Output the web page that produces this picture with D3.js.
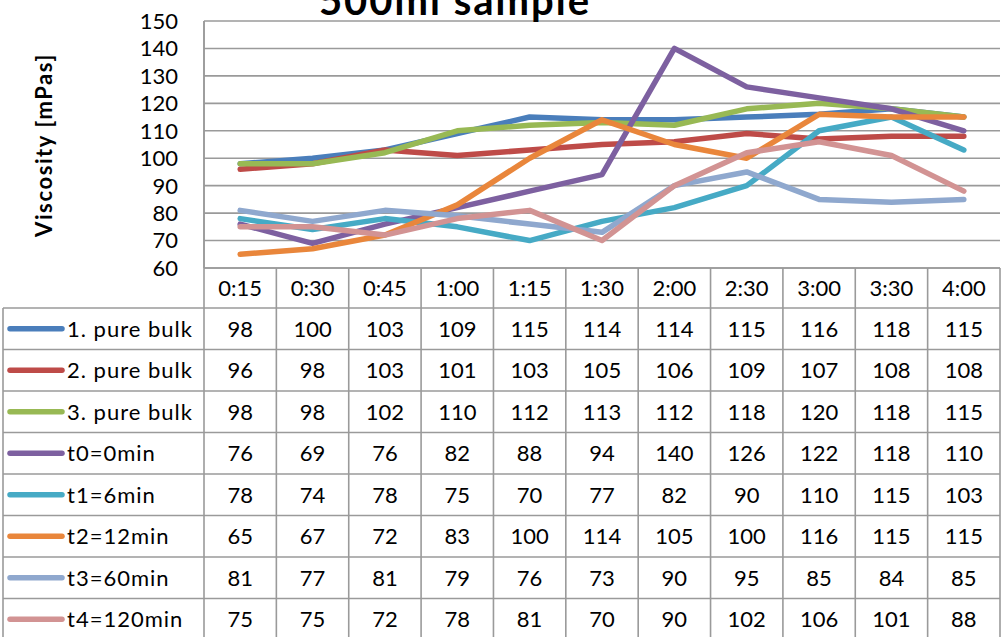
<!DOCTYPE html>
<html>
<head>
<meta charset="utf-8">
<script src="https://cdn.jsdelivr.net/npm/d3@7"></script>
<style>
  html, body { margin: 0; padding: 0; background: #fff; }
  svg { display: block; font-family: Lato, "Open Sans", sans-serif; }
</style>
</head>
<body>
<svg id="chart" width="1001" height="637"></svg>
<script>
// Time points of the measurement
const categories = ["0:15", "0:30", "0:45", "1:00", "1:15", "1:30", "2:00", "2:30", "3:00", "3:30", "4:00"];

// Series names
const seriesNames = ["1. pure bulk", "2. pure bulk", "3. pure bulk", "t0=0min", "t1=6min", "t2=12min", "t3=60min", "t4=120min"];

// Viscosity values [mPas], one array per series
const pureBulk1 = [98, 100, 103, 109, 115, 114, 114, 115, 116, 118, 115];
const pureBulk2 = [96, 98, 103, 101, 103, 105, 106, 109, 107, 108, 108];
const pureBulk3 = [98, 98, 102, 110, 112, 113, 112, 118, 120, 118, 115];
const t0 = [76, 69, 76, 82, 88, 94, 140, 126, 122, 118, 110];
const t1 = [78, 74, 78, 75, 70, 77, 82, 90, 110, 115, 103];
const t2 = [65, 67, 72, 83, 100, 114, 105, 100, 116, 115, 115];
const t3 = [81, 77, 81, 79, 76, 73, 90, 95, 85, 84, 85];
const t4 = [75, 75, 72, 78, 81, 70, 90, 102, 106, 101, 88];

// Y axis ticks
const yTicks = [60, 70, 80, 90, 100, 110, 120, 130, 140, 150];

const seriesValues = [pureBulk1, pureBulk2, pureBulk3, t0, t1, t2, t3, t4];
const colors = ["#4A7EBB", "#BE4B48", "#98B954", "#7D60A0", "#46AAC5", "#E9863B", "#8FA8CE", "#D29393"];

const series = seriesNames.map((name, i) => ({ name, values: seriesValues[i], color: colors[i] }));

const svg = d3.select("#chart");

const plot = { left: 204, right: 1000, top: 21, bottom: 268 };
const table = { headerTop: 268, headerBottom: 308, rowH: 41.5, left: 3 };
const gridColor = "#9a9a9a";

const x = d3.scaleBand().domain(categories).range([plot.left, plot.right]).padding(0);
const y = d3.scaleLinear().domain([60, 150]).range([plot.bottom, plot.top]);

// Horizontal gridlines
svg.append("g")
  .selectAll("line")
  .data(yTicks)
  .join("line")
  .attr("x1", plot.left).attr("x2", plot.right)
  .attr("y1", d => y(d)).attr("y2", d => y(d))
  .attr("stroke", gridColor).attr("stroke-width", 1.6);

// Y axis line
svg.append("line")
  .attr("x1", plot.left).attr("x2", plot.left)
  .attr("y1", plot.top).attr("y2", plot.bottom)
  .attr("stroke", gridColor).attr("stroke-width", 1.6);

// Y tick labels
svg.append("g")
  .selectAll("text")
  .data(yTicks)
  .join("text")
  .attr("x", 178)
  .attr("y", d => y(d))
  .attr("dy", "0.36em")
  .attr("text-anchor", "end")
  .attr("font-size", 22)
  .attr("fill", "#000")
  .text(d => d);

// Y axis title
svg.append("text")
  .attr("transform", "translate(52,145) rotate(-90)")
  .attr("text-anchor", "middle")
  .attr("font-size", 22)
  .attr("font-weight", "bold")
  .attr("letter-spacing", 1.6)
  .text("Viscosity [mPas]");

// Chart title (sits partly above the top edge)
svg.append("text")
  .attr("x", 455)
  .attr("y", 15)
  .attr("text-anchor", "middle")
  .attr("font-size", 40)
  .attr("font-weight", "bold")
  .attr("letter-spacing", 2)
  .text("500ml sample");

// Lines
const line = d3.line()
  .x((d, i) => x(categories[i]) + x.bandwidth() / 2)
  .y(d => y(d));

svg.append("g")
  .selectAll("path")
  .data(series)
  .join("path")
  .attr("d", d => line(d.values))
  .attr("fill", "none")
  .attr("stroke", d => d.color)
  .attr("stroke-width", 5.5)
  .attr("stroke-linejoin", "round")
  .attr("stroke-linecap", "round");

// Data table
const tbl = svg.append("g");
const rowsBottom = table.headerBottom + series.length * table.rowH;

// header row top border
tbl.append("line")
  .attr("x1", plot.left).attr("x2", plot.right)
  .attr("y1", table.headerTop).attr("y2", table.headerTop)
  .attr("stroke", gridColor).attr("stroke-width", 1.6);

// horizontal row borders
const rowLines = d3.range(series.length + 1).map(i => table.headerBottom + i * table.rowH);
tbl.selectAll("line.row")
  .data(rowLines)
  .join("line")
  .attr("class", "row")
  .attr("x1", table.left).attr("x2", plot.right)
  .attr("y1", d => d).attr("y2", d => d)
  .attr("stroke", gridColor).attr("stroke-width", 1.6);

// vertical column borders
const colLines = categories.map(c => x(c)).concat([plot.right]);
tbl.selectAll("line.col")
  .data(colLines)
  .join("line")
  .attr("class", "col")
  .attr("x1", d => d).attr("x2", d => d)
  .attr("y1", (d, i) => i === 0 ? plot.top : table.headerTop)
  .attr("y2", rowsBottom)
  .attr("stroke", gridColor).attr("stroke-width", 1.6);

// left border of legend column
tbl.append("line")
  .attr("x1", table.left).attr("x2", table.left)
  .attr("y1", table.headerBottom).attr("y2", rowsBottom)
  .attr("stroke", gridColor).attr("stroke-width", 1.6);

// header labels
tbl.selectAll("text.head")
  .data(categories)
  .join("text")
  .attr("class", "head")
  .attr("x", d => x(d) + x.bandwidth() / 2)
  .attr("y", (table.headerTop + table.headerBottom) / 2)
  .attr("dy", "0.36em")
  .attr("text-anchor", "middle")
  .attr("font-size", 22)
  .text(d => d);

// series rows
const rows = tbl.selectAll("g.srow")
  .data(series)
  .join("g")
  .attr("class", "srow")
  .attr("transform", (d, i) => `translate(0,${table.headerBottom + i * table.rowH + table.rowH / 2})`);

rows.append("line")
  .attr("x1", 10).attr("x2", 62)
  .attr("y1", 0).attr("y2", 0)
  .attr("stroke", d => d.color)
  .attr("stroke-width", 5.5)
  .attr("stroke-linecap", "round");

rows.append("text")
  .attr("x", 67)
  .attr("dy", "0.36em")
  .attr("font-size", 22)
  .attr("letter-spacing", 1)
  .text(d => d.name);

rows.selectAll("text.val")
  .data(d => d.values.map((v, i) => ({ v, c: categories[i] })))
  .join("text")
  .attr("class", "val")
  .attr("x", d => x(d.c) + x.bandwidth() / 2)
  .attr("dy", "0.36em")
  .attr("text-anchor", "middle")
  .attr("font-size", 22)
  .text(d => d.v);
</script>
</body>
</html>
